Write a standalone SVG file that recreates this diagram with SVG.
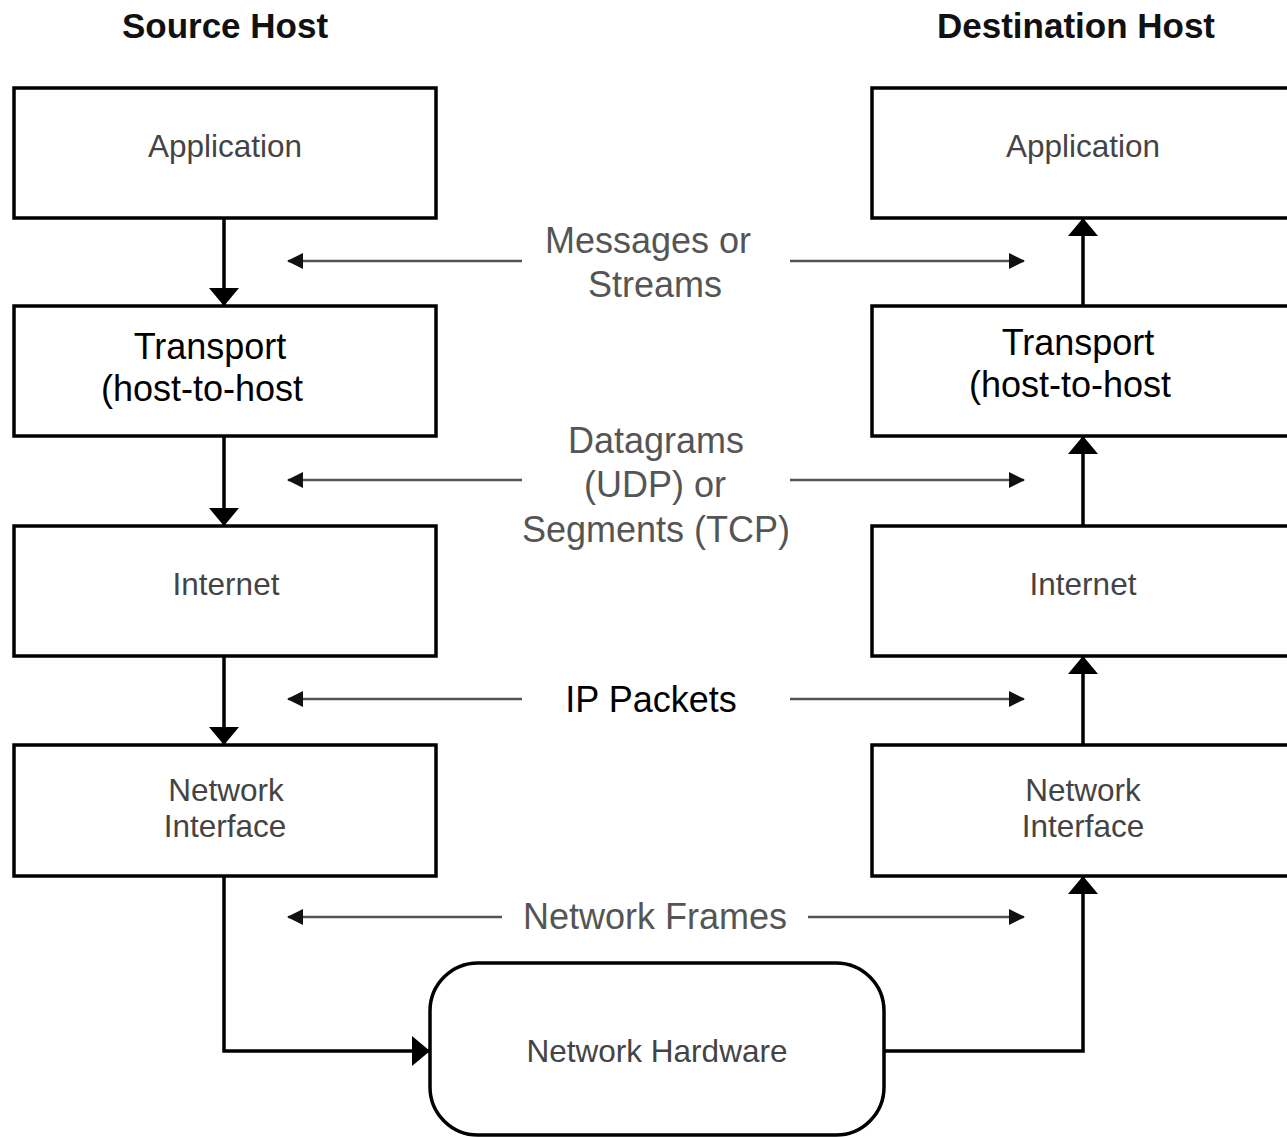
<svg xmlns="http://www.w3.org/2000/svg" width="1287" height="1137" viewBox="0 0 1287 1137">
<defs>
<marker id="big" viewBox="0 0 18 30" refX="17" refY="15" markerWidth="18" markerHeight="30" markerUnits="userSpaceOnUse" orient="auto">
<path d="M0,0 L18,15 L0,30 z" fill="#000"/>
</marker>
<marker id="small" viewBox="0 0 16 16" refX="15" refY="8" markerWidth="16" markerHeight="16" markerUnits="userSpaceOnUse" orient="auto">
<path d="M0,0 L16,8 L0,16 z" fill="#111"/>
</marker>
</defs>
<style>
.box{fill:#fff;stroke:#000;stroke-width:3.5}
.lbl{font-family:"Liberation Sans",Arial,sans-serif;font-size:31.5px;fill:#444;text-anchor:middle}
.mid{font-family:"Liberation Sans",Arial,sans-serif;font-size:36px;fill:#555;text-anchor:middle}
.blk{font-family:"Liberation Sans",Arial,sans-serif;font-size:36px;fill:#000;text-anchor:middle}
.ttl{font-family:"Liberation Sans",Arial,sans-serif;font-size:35px;font-weight:bold;fill:#111;text-anchor:middle}
.conn{fill:none;stroke:#000;stroke-width:3.5}
.thin{fill:none;stroke:#555;stroke-width:2.5}
</style>
<rect width="1287" height="1137" fill="#fff"/>
<text class="ttl" x="225" y="38">Source Host</text>
<text class="ttl" x="1076" y="38">Destination Host</text>

<g id="connectors">
<line class="conn" x1="224" y1="218" x2="224" y2="305" marker-end="url(#big)"/>
<line class="conn" x1="224" y1="436" x2="224" y2="525" marker-end="url(#big)"/>
<line class="conn" x1="224" y1="656" x2="224" y2="744" marker-end="url(#big)"/>
<polyline class="conn" points="224,876 224,1051 429,1051" marker-end="url(#big)"/>
<line class="conn" x1="1083" y1="306" x2="1083" y2="219" marker-end="url(#big)"/>
<line class="conn" x1="1083" y1="526" x2="1083" y2="437" marker-end="url(#big)"/>
<line class="conn" x1="1083" y1="745" x2="1083" y2="657" marker-end="url(#big)"/>
<polyline class="conn" points="884,1051 1083,1051 1083,877" marker-end="url(#big)"/>
<line class="thin" x1="522" y1="261" x2="288" y2="261" marker-end="url(#small)"/>
<line class="thin" x1="790" y1="261" x2="1024" y2="261" marker-end="url(#small)"/>
<line class="thin" x1="522" y1="480" x2="288" y2="480" marker-end="url(#small)"/>
<line class="thin" x1="790" y1="480" x2="1024" y2="480" marker-end="url(#small)"/>
<line class="thin" x1="522" y1="699" x2="288" y2="699" marker-end="url(#small)"/>
<line class="thin" x1="790" y1="699" x2="1024" y2="699" marker-end="url(#small)"/>
<line class="thin" x1="502" y1="917" x2="288" y2="917" marker-end="url(#small)"/>
<line class="thin" x1="808" y1="917" x2="1024" y2="917" marker-end="url(#small)"/>
</g>

<g id="src-app"><rect class="box" x="14" y="88" width="422" height="130"/><text class="lbl" x="225" y="157">Application</text></g>
<g id="src-transport"><rect class="box" x="14" y="306" width="422" height="130"/><text class="blk" x="210" y="359">Transport</text><text class="blk" x="202" y="401">(host-to-host</text></g>
<g id="src-internet"><rect class="box" x="14" y="526" width="422" height="130"/><text class="lbl" x="226" y="595">Internet</text></g>
<g id="src-netif"><rect class="box" x="14" y="745" width="422" height="131"/><text class="lbl" x="226" y="801">Network</text><text class="lbl" x="225" y="837">Interface</text></g>

<g id="dst-app"><rect class="box" x="872" y="88" width="430" height="130"/><text class="lbl" x="1083" y="157">Application</text></g>
<g id="dst-transport"><rect class="box" x="872" y="306" width="430" height="130"/><text class="blk" x="1078" y="355">Transport</text><text class="blk" x="1070" y="397">(host-to-host</text></g>
<g id="dst-internet"><rect class="box" x="872" y="526" width="430" height="130"/><text class="lbl" x="1083" y="595">Internet</text></g>
<g id="dst-netif"><rect class="box" x="872" y="745" width="430" height="131"/><text class="lbl" x="1083" y="801">Network</text><text class="lbl" x="1083" y="837">Interface</text></g>

<g id="net-hw"><rect class="box" x="430" y="963" width="454" height="172" rx="48" ry="48"/><text class="lbl" x="657" y="1062">Network Hardware</text></g>

<g id="labels">
<text class="mid" x="648" y="253">Messages or</text>
<text class="mid" x="655" y="297">Streams</text>
<text class="mid" x="656" y="453">Datagrams</text>
<text class="mid" x="655" y="497">(UDP) or</text>
<text class="mid" x="656" y="542">Segments (TCP)</text>
<text class="blk" x="651" y="712">IP Packets</text>
<text class="mid" x="655" y="929">Network Frames</text>
</g>
</svg>
